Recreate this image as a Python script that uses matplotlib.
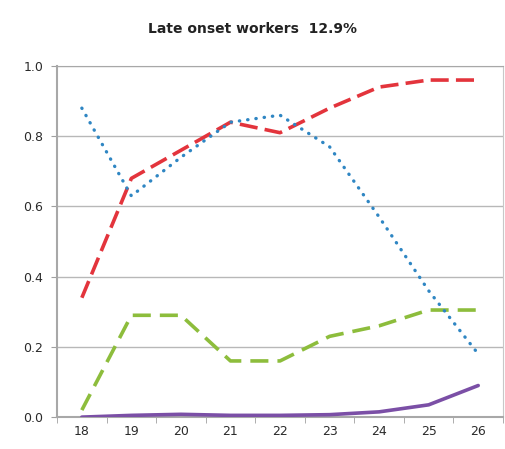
import matplotlib.pyplot as plt
import numpy as np

# Data
ages = [18, 19, 20, 21, 22, 23, 24, 25, 26]
blue_dotted = [0.88, 0.63, 0.74, 0.84, 0.86, 0.77, 0.57, 0.36, 0.18]
red_dashed = [0.34, 0.68, 0.76, 0.84, 0.81, 0.88, 0.94, 0.96, 0.96]
green_dashed = [0.02, 0.29, 0.29, 0.16, 0.16, 0.23, 0.26, 0.305, 0.305]
purple_solid = [0.0, 0.005, 0.008, 0.005, 0.005, 0.007, 0.015, 0.035, 0.09]
y_ticks = [0.0, 0.2, 0.4, 0.6, 0.8, 1.0]

fig = plt.figure(figsize=(5.05, 4.49), dpi=100)
ax = fig.add_axes([0.113, 0.071, 0.883, 0.782])

x = np.arange(len(ages))
ax.plot(x, purple_solid, color='#7b4fa6', lw=2.6, solid_capstyle='round', zorder=3)
ax.plot(x, green_dashed, color='#8dbd3c', lw=2.6, dashes=(5, 2.5), zorder=3)
ax.plot(x, red_dashed, color='#e3343c', lw=2.6, dashes=(5, 2), zorder=4)
ax.plot(x, blue_dotted, color='#2f86c3', lw=2.4, dashes=(0.1, 2.4),
        dash_capstyle='round', zorder=4)

ax.set_xlim(-0.5, len(ages) - 0.5)
ax.set_ylim(0, 1.0)
ax.set_yticks(y_ticks)
ax.set_yticklabels(['%.1f' % v for v in y_ticks])
ax.set_xticks(x)
ax.set_xticklabels([str(a) for a in ages])
ax.set_xticks(np.arange(-0.5, len(ages), 1), minor=True)
ax.tick_params(axis='x', which='major', length=0, pad=6)
ax.tick_params(axis='x', which='minor', length=4, color='#a0a0a0')
ax.tick_params(axis='y', length=4, color='#a0a0a0', pad=6)
ax.tick_params(labelsize=9, labelcolor='#2a2a2a')

ax.grid(axis='y', color='#b8b8b8', lw=1)
ax.set_axisbelow(True)
for side in ['left', 'bottom', 'right', 'top']:
    ax.spines[side].set_color('#a8a8a8')
ax.spines['right'].set_color('#c8c8c8')
ax.spines['left'].set_linewidth(1.5)
ax.spines['bottom'].set_linewidth(1.5)

fig.suptitle('Late onset workers  12.9%', y=0.95, fontsize=10,
             fontweight='bold', color='#222222')

fig.savefig('out.png', dpi=100)
